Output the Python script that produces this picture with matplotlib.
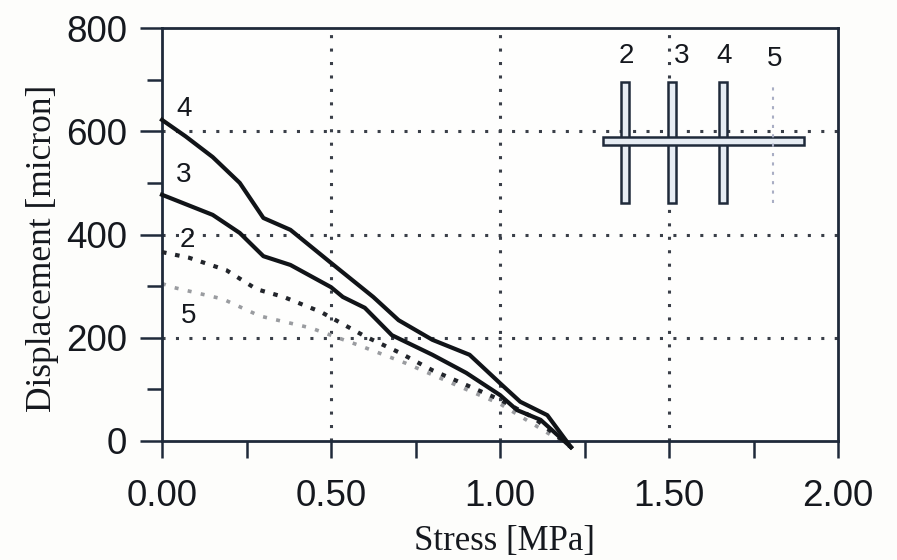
import matplotlib
matplotlib.use("Agg")
import matplotlib.pyplot as plt
from matplotlib.patches import Rectangle

# =========================
# DATA
# =========================
x_4 = [0.00, 0.07, 0.15, 0.23, 0.30, 0.38, 0.50, 0.625, 0.70, 0.80, 0.91, 1.00, 1.06, 1.14, 1.21]
y_4 = [622, 590, 550, 500, 432, 409, 345, 279, 234, 196, 167, 112, 76, 50, -12]

x_3 = [0.00, 0.15, 0.23, 0.30, 0.38, 0.50, 0.535, 0.60, 0.68, 0.80, 0.90, 1.00, 1.05, 1.12, 1.21]
y_3 = [477, 438, 403, 358, 341, 298, 279, 258, 205, 167, 132, 89, 60, 41, -12]

x_2 = [0.00, 0.08, 0.19, 0.28, 0.36, 0.47, 0.60, 0.70, 0.80, 1.00, 1.10, 1.21]
y_2 = [366, 355, 331, 294, 279, 250, 203, 172, 137, 80, 45, -12]

x_5 = [0.00, 0.03, 0.18, 0.29, 0.44, 0.58, 0.72, 0.90, 1.00, 1.21]
y_5 = [305, 298, 275, 242, 219, 186, 151, 100, 72, -12]

x_ticks = [0.0, 0.5, 1.0, 1.5, 2.0]
x_tick_labels = ["0.00", "0.50", "1.00", "1.50", "2.00"]
x_minor = [0.25, 0.75, 1.25, 1.75]
y_ticks = [0, 200, 400, 600, 800]
y_minor = [100, 300, 500, 700]

# inset sketch, in data units
bar_x = [1.371, 1.510, 1.660]
bar_5_x = 1.808
bar_width = 0.024
bar_bottom = 461
bar_top = 695
beam_x = [1.305, 1.90]
beam_y = [573, 589]
inset_labels = ["2", "3", "4", "5"]
inset_label_x = [1.375, 1.538, 1.663, 1.813]
inset_label_y = [745, 745, 745, 740]

curve_labels = ["4", "3", "2", "5"]
curve_label_x = [0.065, 0.063, 0.075, 0.078]
curve_label_y = [644, 515, 390, 242]

ink = "#1f2a3a"

# =========================
# FIGURE
# =========================
fig = plt.figure(figsize=(8.97, 5.6), dpi=100, facecolor="#fdfdfb")
ax = fig.add_axes([162 / 897, 119 / 560, 676 / 897, 413 / 560], facecolor="#fefefd")

ax.set_xlim(0, 2)
ax.set_ylim(0, 800)

for g in x_ticks[1:-1]:
    ax.axvline(g, color="#3a3f48", lw=2.2, ls=(0, (1, 3.4)), zorder=1)
for g in y_ticks[1:-1]:
    ax.axhline(g, color="#3a3f48", lw=2.2, ls=(0, (1, 3.4)), zorder=1)

ax.plot(x_4, y_4, color="#111418", lw=3.0, clip_on=False, zorder=4)
ax.plot(x_3, y_3, color="#111418", lw=3.0, clip_on=False, zorder=4)
ax.plot(x_2, y_2, color="#22252b", lw=3.0, ls=(0, (1.1, 2.1)), clip_on=False, zorder=3)
ax.plot(x_5, y_5, color="#9a9ca0", lw=2.6, ls=(0, (1.1, 2.6)), clip_on=False, zorder=2)

# =========================
# INSET SKETCH
# =========================
for bx in bar_x:
    ax.add_patch(Rectangle((bx - bar_width / 2, bar_bottom), bar_width, bar_top - bar_bottom,
                           fc="#e6ecf3", ec=ink, lw=1.8, zorder=3))
ax.add_patch(Rectangle((beam_x[0], beam_y[0]), beam_x[1] - beam_x[0], beam_y[1] - beam_y[0],
                       fc="#e6ecf3", ec=ink, lw=1.8, zorder=4))
ax.plot([bar_5_x, bar_5_x], [bar_bottom, bar_top], color="#a9aec4", lw=1.5, ls=(0, (1.5, 3)), zorder=5)

for t, x, y in zip(inset_labels, inset_label_x, inset_label_y):
    ax.text(x, y, t, family="Liberation Sans", fontsize=20, color="#15181e", ha="center", va="center", zorder=6)
for t, x, y in zip(curve_labels, curve_label_x, curve_label_y):
    ax.text(x, y, t, family="Liberation Sans", fontsize=20, color="#15181e", ha="center", va="center", zorder=6)

# =========================
# AXES
# =========================
for name in ax.spines:
    ax.spines[name].set_color(ink)
    ax.spines[name].set_linewidth(2.0)

ax.set_xticks(x_ticks)
ax.set_xticklabels(x_tick_labels)
ax.set_xticks(x_minor, minor=True)
ax.set_yticks(y_ticks)
ax.set_yticks(y_minor, minor=True)
ax.tick_params(axis="x", which="both", length=12, width=1.8, color=ink, pad=15)
ax.tick_params(axis="y", which="major", length=16, width=1.8, color=ink, pad=9)
ax.tick_params(axis="y", which="minor", length=11, width=1.8, color=ink)

for lab in ax.get_xticklabels() + ax.get_yticklabels():
    lab.set_family("Liberation Sans")
    lab.set_fontsize(26.5)
    lab.set_color("#15181e")

ax.set_xlabel("Stress [MPa]", family="Liberation Serif", fontsize=25, color="#15181e", labelpad=8, x=0.507)
ax.set_ylabel("Displacement [micron]", family="Liberation Serif", fontsize=25.5, color="#15181e", labelpad=5, y=0.467)

plt.savefig("out.png", dpi=100)
